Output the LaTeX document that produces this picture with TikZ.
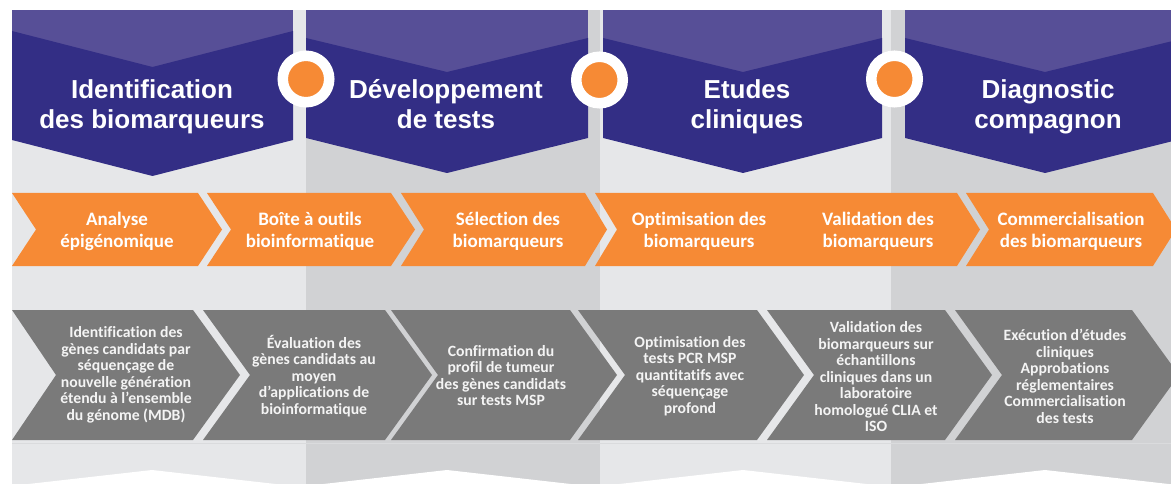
\documentclass[tikz,border=0pt]{standalone}
\usepackage{fontspec}
\setmainfont{Carlito}[Ligatures={NoCommon}]
\newfontfamily\headfont{Liberation Sans}
\definecolor{bglight}{HTML}{E6E7E9}
\definecolor{bgdark}{HTML}{D1D2D4}
\definecolor{purplelight}{HTML}{574F97}
\definecolor{purpledark}{HTML}{332E85}
\definecolor{myorange}{HTML}{F68A35}
\definecolor{mygray}{HTML}{7A7A7A}
\definecolor{gtext}{HTML}{F4F4F4}
\tikzset{
  otxt/.style={text=white, font=\bfseries\fontsize{19}{22.5}\selectfont, align=center, inner sep=0pt},
  gtxt/.style={text=gtext, font=\bfseries\fontsize{15.7}{16.5}\selectfont, align=center, inner sep=0pt},
  htxt/.style={text=white, font=\headfont\bfseries\fontsize{26}{30.5}\selectfont, align=center, inner sep=0pt, anchor=north},
  dot/.style={circle, fill=myorange, draw=white, line width=10.5pt, minimum size=46.5pt, inner sep=0pt},
  lightcol/.style={fill=bglight},
  darkcol/.style={fill=bgdark},
  headtop/.style={fill=purplelight},
  headchev/.style={fill=purpledark},
  oarrow/.style={fill=myorange},
  garrow/.style={fill=mygray},
  whitenotch/.style={fill=white}
}
\newcommand\hstrut{\rule{0pt}{25pt}}
\begin{document}
\begin{tikzpicture}[x=1pt,y=-1pt]
\clip (0,0) rectangle (1171,484);
\useasboundingbox (0,0) rectangle (1171,484);
\fill[white] (0,0) rectangle (1171,484);
% column backgrounds
\path[lightcol] (12,10) rectangle (306,484);
\path[darkcol] (306,10) rectangle (600,484);
\path[lightcol] (600,10) rectangle (891,484);
\path[darkcol] (891,10) rectangle (1171,484);
% bottom white notches
\foreach \c in {152,447,743,1045}{
  \path[whitenotch] (\c-150,487) -- (\c,470) -- (\c+150,487) -- (\c+150,495) -- (\c-150,495) -- cycle;
}
% header columns
\path[headtop] (12,10) rectangle (293,70);
\path[headchev] (12,31) -- (152.5,67) -- (293,31) -- (293,140) -- (152.5,176) -- (12,140) -- cycle;
\path[headtop] (306,10) rectangle (588,75);
\path[headchev] (306,38) -- (447,72) -- (588,38) -- (588,138) -- (447,173) -- (306,138) -- cycle;
\path[headtop] (603,10) rectangle (882,75);
\path[headchev] (603,38) -- (743,72) -- (882,38) -- (882,138) -- (743,173) -- (603,138) -- cycle;
\path[headtop] (905,10) rectangle (1185,75);
\path[headchev] (905,38) -- (1045,72) -- (1185,38) -- (1185,138) -- (1045,173) -- (905,138) -- cycle;
% header texts (first baseline at y=98)
\node[htxt] (h1) at (152,73) {\hstrut Identification\\des biomarqueurs};
\node[htxt] (h2) at (446,73) {\hstrut Développement\\de tests};
\node[htxt] (h3) at (747,73) {\hstrut Etudes\\cliniques};
\node[htxt] (h4) at (1048,73) {\hstrut Diagnostic\\compagnon};
% dots
\node[dot] (d1) at (306,79) {};
\node[dot] (d2) at (599.5,80) {};
\node[dot] (d3) at (894.5,79) {};
% orange arrows
\path[oarrow] (12,193) -- (198,193) -- (222,229.5) -- (198,266) -- (12,266) -- (36,229.5) -- cycle;
\path[oarrow] (207,193) -- (391,193) -- (415,229.5) -- (391,266) -- (207,266) -- (231,229.5) -- cycle;
\path[oarrow] (401,193) -- (585,193) -- (607,229.5) -- (585,266) -- (401,266) -- (424,229.5) -- cycle;
\path[oarrow] (595,193) -- (957,193) -- (980,229.5) -- (957,266) -- (595,266) -- (617,229.5) -- cycle;
\path[oarrow] (966,193) -- (1153,193) -- (1176,229.5) -- (1153,266) -- (966,266) -- (989,229.5) -- cycle;
\node[otxt] (o1) at (117,231.5) {Analyse\\épigénomique};
\node[otxt] (o2) at (310,231.5) {Boîte à outils\\bioinformatique};
\node[otxt] (o3) at (508,231.5) {Sélection des\\biomarqueurs};
\node[otxt] (o4) at (699,231.5) {Optimisation des\\biomarqueurs};
\node[otxt] (o5) at (878,231.5) {Validation des\\biomarqueurs};
\node[otxt] (o6) at (1071,231.5) {Commercialisation\\des biomarqueurs};
% gray arrows
\path[garrow] (12,310) -- (193,310) -- (240,375) -- (193,440) -- (12,440) -- (56,375) -- cycle;
\path[garrow] (203,310) -- (385,310) -- (432,375) -- (385,440) -- (203,440) -- (250,375) -- cycle;
\path[garrow] (391,310) -- (570,310) -- (617,375) -- (570,440) -- (391,440) -- (438,375) -- cycle;
\path[garrow] (578,310) -- (757,310) -- (804,375) -- (757,440) -- (578,440) -- (625,375) -- cycle;
\path[garrow] (767,310) -- (945,310) -- (992,375) -- (945,440) -- (767,440) -- (814,375) -- cycle;
\path[garrow] (955,310) -- (1132,310) -- (1179,375) -- (1132,440) -- (955,440) -- (1002,375) -- cycle;
\draw[bgdark!80!white, line width=1pt] (12,443.5) -- (1171,443.5);
\node[gtxt] (g1) at (126,375) {Identification des\\gènes candidats par\\séquençage de\\nouvelle génération\\étendu à l’ensemble\\du génome (MDB)};
\node[gtxt] (g2) at (314,376) {Évaluation des\\gènes candidats au\\moyen\\d’applications de\\bioinformatique};
\node[gtxt] (g3) at (501,375.5) {Confirmation du\\profil de tumeur\\des gènes candidats\\sur tests MSP};
\node[gtxt] (g4) at (690,376) {Optimisation des\\tests PCR MSP\\quantitatifs avec\\séquençage\\profond};
\node[gtxt] (g5) at (876,377) {Validation des\\biomarqueurs sur\\échantillons\\cliniques dans un\\laboratoire\\homologué CLIA et\\ISO};
\node[gtxt] (g6) at (1065,376.5) {Exécution d’études\\cliniques\\Approbations\\réglementaires\\Commercialisation\\des tests};
\end{tikzpicture}
\end{document}
